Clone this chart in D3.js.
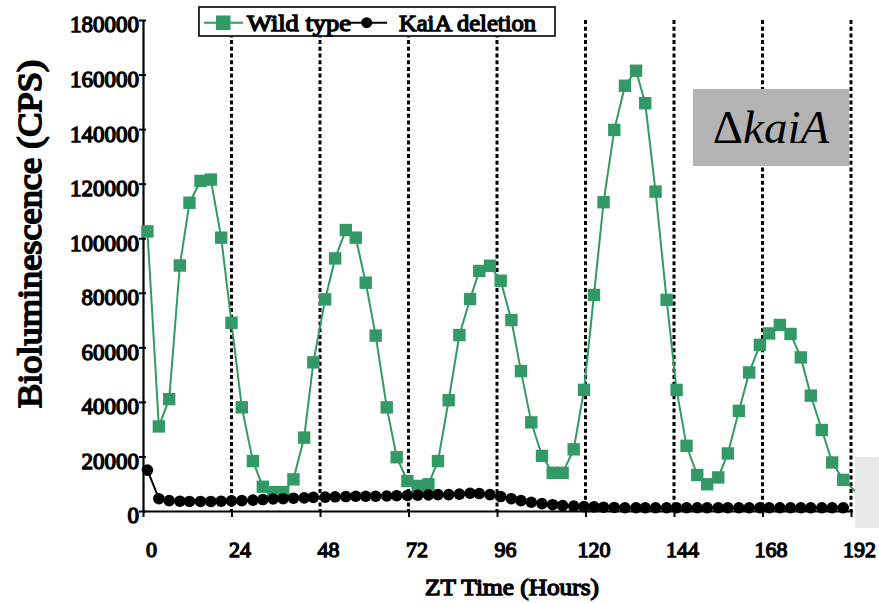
<!DOCTYPE html>
<html>
<head>
<meta charset="utf-8">
<script src="https://d3js.org/d3.v7.min.js"></script>
<style>
  body { margin: 0; background: #fff; }
  text { font-family: "Liberation Serif", "Times New Roman", serif; }
  /* thickened serif glyphs stand in for the bold face */
  .bold { font-weight: normal; stroke: #000; stroke-width: 1.3px; fill: #000; paint-order: stroke; }
</style>
</head>
<body>
<div id="my_dataviz"></div>
<script>
// sampling times (hours ZT)
var times = [1.2, 4.3, 7.1, 10.0, 12.6, 15.6, 18.4, 21.2, 24.0, 26.8, 29.8, 32.5, 35.3, 38.0, 40.8, 43.7,
  46.2, 49.4, 52.1, 55.0, 57.7, 60.4, 63.1, 66.1, 68.8, 71.7, 74.5, 77.4, 80.0, 82.9, 85.8, 88.7,
  91.2, 94.1, 97.0, 99.9, 102.5, 105.3, 108.2, 111.1, 113.8, 116.8, 119.6, 122.3, 124.9, 127.8,
  130.7, 133.7, 136.2, 139.0, 142.0, 144.7, 147.4, 150.3, 153.0, 156.0, 158.6, 161.6, 164.4,
  167.3, 169.8, 172.7, 175.6, 178.4, 181.1, 184.1, 186.9, 189.9, 195.0];

var wildType = [102500, 31000, 41000, 90000, 113000, 121000, 121500, 100200, 69000, 38000, 18300,
  8900, 6900, 6900, 11600, 26900, 54500, 77600, 92600, 103000, 100200, 83700, 64300, 38000, 19700,
  11000, 9200, 9800, 18300, 40600, 64500, 77700, 88000, 89900, 84400, 70000, 51300, 32500, 20200,
  14000, 14000, 22600, 44400, 79200, 113200, 139700, 155900, 161400, 149500, 117100, 77400, 44400,
  23900, 13200, 9800, 12300, 21100, 36700, 50800, 60900, 65100, 68200, 64900, 56300, 42300, 29700,
  17800, 11400, 5000];

var kaiADeletion = [15000, 4500, 3800, 3600, 3500, 3500, 3500, 3600, 3700, 3800, 4000, 4200, 4400,
  4500, 4700, 4800, 5000, 5100, 5200, 5300, 5400, 5400, 5400, 5500, 5600, 5700, 5800, 5900, 6000,
  6000, 6200, 6500, 6400, 6000, 5300, 4500, 3800, 3200, 2700, 2300, 2000, 1800, 1600, 1500, 1400,
  1300, 1200, 1200, 1200, 1200, 1200, 1200, 1200, 1200, 1200, 1200, 1200, 1200, 1200, 1200, 1200,
  1200, 1200, 1200, 1200, 1200, 1200, 1200, 1200];

var xTicks = [0, 24, 48, 72, 96, 120, 144, 168, 192];
var yTicks = [0, 20000, 40000, 60000, 80000, 100000, 120000, 140000, 160000, 180000];
var dayLines = [24, 48, 72, 96, 120, 144, 168, 192];

var green = "#339966";

var svg = d3.select("#my_dataviz")
  .append("svg")
  .attr("width", 879)
  .attr("height", 603);

var x = d3.scaleLinear().domain([0, 192]).range([143, 851]);
var y = d3.scaleLinear().domain([0, 180000]).range([511, 20]);

// Y axis
var yAxis = svg.append("g")
  .attr("transform", "translate(143,0)")
  .call(d3.axisLeft(y).tickValues(yTicks).tickFormat(function(d) { return d; }).tickSizeOuter(0));
yAxis.attr("font-family", null).attr("font-size", null);
yAxis.select(".domain").attr("stroke-width", 2.2);
yAxis.selectAll(".tick line").attr("x1", 3).attr("x2", -4).attr("stroke-width", 2);
yAxis.selectAll(".tick text")
  .attr("class", "bold")
  .attr("x", -4)
  .attr("dy", "0.52em")
  .style("font-size", "23px");

// X axis
var xAxis = svg.append("g")
  .attr("transform", "translate(0,511)")
  .call(d3.axisBottom(x).tickValues(xTicks).tickSizeOuter(0));
xAxis.attr("font-family", null).attr("font-size", null);
xAxis.select(".domain").attr("stroke-width", 2.2).attr("d", "M143,0.5H853");
xAxis.selectAll(".tick line").attr("y1", -1).attr("y2", 6).attr("stroke-width", 2);
xAxis.selectAll(".tick text")
  .attr("class", "bold")
  .attr("x", 8)
  .attr("y", 46)
  .attr("dy", 0)
  .style("font-size", "22px");

// dotted lines every 24 h
svg.append("g")
  .selectAll("line")
  .data(dayLines)
  .enter()
  .append("line")
  .attr("x1", function(d) { return x(d); })
  .attr("x2", function(d) { return x(d); })
  .attr("y1", y(180000))
  .attr("y2", y(0))
  .attr("stroke", "#000")
  .attr("stroke-width", 3)
  .attr("stroke-dasharray", "4,2.7");

// axis titles
svg.append("text")
  .attr("class", "bold")
  .attr("x", 425)
  .attr("y", 595)
  .attr("textLength", 174)
  .attr("lengthAdjust", "spacingAndGlyphs")
  .style("font-size", "23px")
  .text("ZT Time (Hours)");

svg.append("text")
  .attr("class", "bold")
  .attr("transform", "translate(41,408) rotate(-90)")
  .attr("textLength", 348)
  .attr("lengthAdjust", "spacingAndGlyphs")
  .style("font-size", "34px")
  .style("stroke-width", "1.8px")
  .text("Bioluminescence (CPS)");

var wt = times.map(function(t, i) { return {t: t, v: wildType[i]}; });
var ko = times.map(function(t, i) { return {t: t, v: kaiADeletion[i]}; });

var line = d3.line()
  .x(function(d) { return x(d.t); })
  .y(function(d) { return y(d.v); });

// wild type
svg.append("path")
  .datum(wt)
  .attr("d", line)
  .attr("fill", "none")
  .attr("stroke", green)
  .attr("stroke-width", 2);
svg.append("g")
  .selectAll("rect")
  .data(wt)
  .enter()
  .append("rect")
  .attr("x", function(d) { return x(d.t) - 6.2; })
  .attr("y", function(d) { return y(d.v) - 6.2; })
  .attr("width", 12.4)
  .attr("height", 12.4)
  .attr("fill", green);

// KaiA deletion
var koPts = ko.slice(0, ko.length - 1);
svg.append("path")
  .datum(koPts)
  .attr("d", line)
  .attr("fill", "none")
  .attr("stroke", "#000")
  .attr("stroke-width", 2);
svg.append("g")
  .selectAll("circle")
  .data(koPts)
  .enter()
  .append("circle")
  .attr("cx", function(d) { return x(d.t); })
  .attr("cy", function(d) { return y(d.v); })
  .attr("r", 5.8)
  .attr("fill", "#000");

// strain label box
svg.append("rect")
  .attr("x", 693)
  .attr("y", 89)
  .attr("width", 156)
  .attr("height", 77)
  .attr("fill", "#b3b3b3");
var lab = svg.append("text")
  .attr("x", 771)
  .attr("y", 143)
  .attr("text-anchor", "middle")
  .style("font-size", "47px");
lab.append("tspan").text("\u0394");
lab.append("tspan").style("font-style", "italic").text("kaiA");

// legend
var leg = svg.append("g");
leg.append("rect")
  .attr("x", 199)
  .attr("y", 7)
  .attr("width", 356)
  .attr("height", 29)
  .attr("fill", "#fff")
  .attr("stroke", "#000")
  .attr("stroke-width", 1.6);
leg.append("line")
  .attr("x1", 204).attr("x2", 243).attr("y1", 22.7).attr("y2", 22.7)
  .attr("stroke", green).attr("stroke-width", 2);
leg.append("rect")
  .attr("x", 216).attr("y", 15.5).attr("width", 14.5).attr("height", 14.5)
  .attr("fill", green);
leg.append("text")
  .attr("class", "bold")
  .attr("x", 247).attr("y", 31)
  .attr("textLength", 104)
  .attr("lengthAdjust", "spacingAndGlyphs")
  .style("font-size", "23.5px")
  .text("Wild type");
leg.append("line")
  .attr("x1", 348).attr("x2", 387).attr("y1", 22.7).attr("y2", 22.7)
  .attr("stroke", "#000").attr("stroke-width", 2);
leg.append("circle")
  .attr("cx", 366.7).attr("cy", 22.7).attr("r", 5.5)
  .attr("fill", "#000");
leg.append("text")
  .attr("class", "bold")
  .attr("x", 399).attr("y", 31)
  .attr("textLength", 137)
  .attr("lengthAdjust", "spacingAndGlyphs")
  .style("font-size", "23.5px")
  .text("KaiA deletion");

// pale patch at lower right
svg.append("rect")
  .attr("x", 855)
  .attr("y", 457)
  .attr("width", 24)
  .attr("height", 71)
  .attr("fill", "#e9e9e9");
</script>
</body>
</html>
